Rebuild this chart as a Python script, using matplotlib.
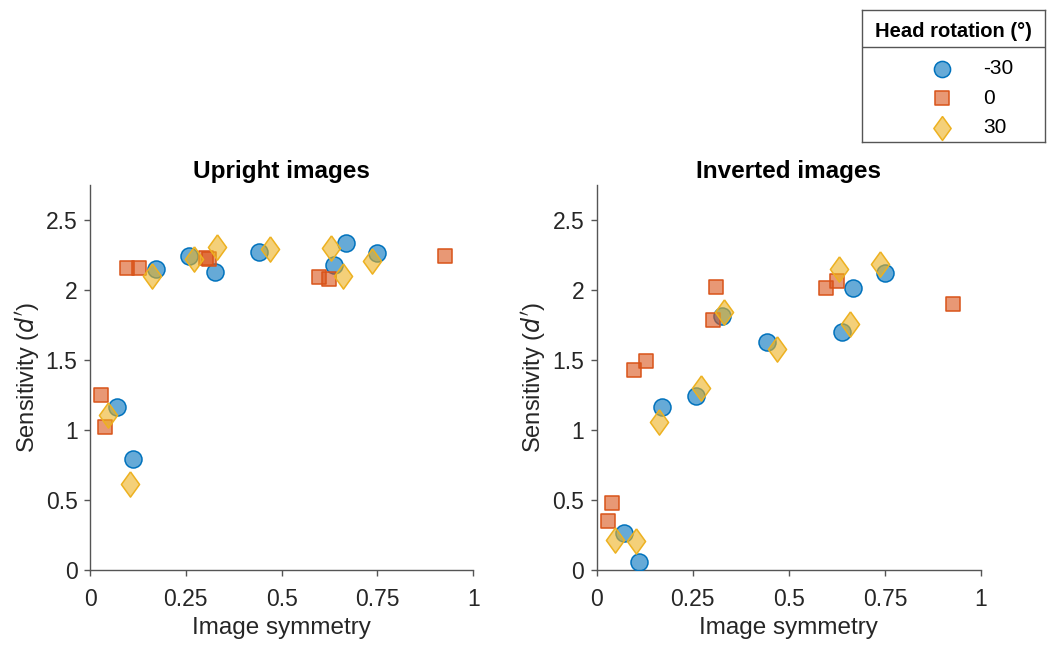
import numpy as np
import matplotlib.pyplot as plt

plt.rcParams['font.family'] = ['Liberation Sans', 'DejaVu Sans']

# image symmetry per rotation
sym_m30 = [0.070, 0.111, 0.171, 0.257, 0.326, 0.442, 0.637, 0.668, 0.749]
sym_0 = [0.029, 0.039, 0.096, 0.128, 0.303, 0.310, 0.597, 0.624, 0.926]
sym_30 = [0.047, 0.103, 0.161, 0.270, 0.331, 0.470, 0.630, 0.659, 0.737]

# sensitivity, upright images
up_m30 = [1.167, 0.795, 2.148, 2.243, 2.131, 2.274, 2.183, 2.338, 2.267]
up_0 = [1.25, 1.02, 2.155, 2.155, 2.233, 2.22, 2.095, 2.083, 2.245]
up_30 = [1.107, 0.614, 2.10, 2.221, 2.31, 2.293, 2.298, 2.102, 2.207]

# sensitivity, inverted images
inv_m30 = [0.269, 0.055, 1.162, 1.243, 1.814, 1.633, 1.698, 2.012, 2.121]
inv_0 = [0.35, 0.481, 1.433, 1.495, 1.790, 2.019, 2.017, 2.067, 1.90]
inv_30 = [0.214, 0.21, 1.055, 1.302, 1.845, 1.583, 2.148, 1.755, 2.188]

labels = ['-30', '0', '30']
colors = ['#0072BD', '#D95319', '#EDB120']
diamond = [(0, 1), (0.72, 0), (0, -1), (-0.72, 0), (0, 1)]
markers = ['o', 's', diamond]
sizes = [150, 105, 330]

fig = plt.figure(figsize=(10.47, 6.45), dpi=100)
ax1 = fig.add_axes([0.086, 0.116, 0.366, 0.597])
ax2 = fig.add_axes([0.570, 0.116, 0.367, 0.597])

panels = [(ax1, 'Upright images', [up_m30, up_0, up_30]),
          (ax2, 'Inverted images', [inv_m30, inv_0, inv_30])]
xs = [sym_m30, sym_0, sym_30]

for ax, title, ys in panels:
    for i in range(3):
        face = plt.matplotlib.colors.to_rgba(colors[i], 0.6)
        ax.scatter(xs[i], ys[i], marker=markers[i], s=sizes[i], facecolor=face,
                   edgecolor=colors[i], linewidths=1.1, zorder=3, label=labels[i])
    ax.set_xlim(0, 1)
    ax.set_ylim(0, 2.75)
    ax.set_xticks([0, 0.25, 0.5, 0.75, 1])
    ax.set_xticklabels(['0', '0.25', '0.5', '0.75', '1'])
    ax.set_yticks([0, 0.5, 1, 1.5, 2, 2.5])
    ax.set_yticklabels(['0', '0.5', '1', '1.5', '2', '2.5'])
    ax.spines['top'].set_visible(False)
    ax.spines['right'].set_visible(False)
    for sp in ['left', 'bottom']:
        ax.spines[sp].set_color('#555555')
        ax.spines[sp].set_linewidth(1.0)
    ax.tick_params(direction='out', length=4, width=1.0, color='#555555',
                   labelsize=16.5, labelcolor='#262626')
    ax.tick_params(axis='x', pad=9)
    ax.tick_params(axis='y', pad=5)
    ax.set_title(title, fontsize=17.5, fontweight='bold', pad=5)
    ax.set_xlabel('Image symmetry', fontsize=17.5, color='#262626', labelpad=4)
    ax.set_ylabel("Sensitivity ($d'$)", fontsize=17, color='#262626', labelpad=3)

# legend box with title separator
lax = fig.add_axes([862 / 1047, (645 - 142) / 645, 183 / 1047, 132 / 645])
lax.set_xticks([])
lax.set_yticks([])
for sp in lax.spines.values():
    sp.set_color('#555555')
    sp.set_linewidth(1.0)
lax.text(0.5, 0.84, 'Head rotation (°)', ha='center', va='center',
         fontsize=14.5, fontweight='bold', transform=lax.transAxes)
lax.axhline(0.72, color='#555555', linewidth=1.0)
handles, hl = ax1.get_legend_handles_labels()
lax.legend(handles, hl, loc='lower left', bbox_to_anchor=(0.23, -0.09),
           frameon=False, fontsize=15, handletextpad=1.0, labelspacing=0.5,
           borderpad=0.3, markerscale=0.95)

fig.savefig('out.png', dpi=100)
